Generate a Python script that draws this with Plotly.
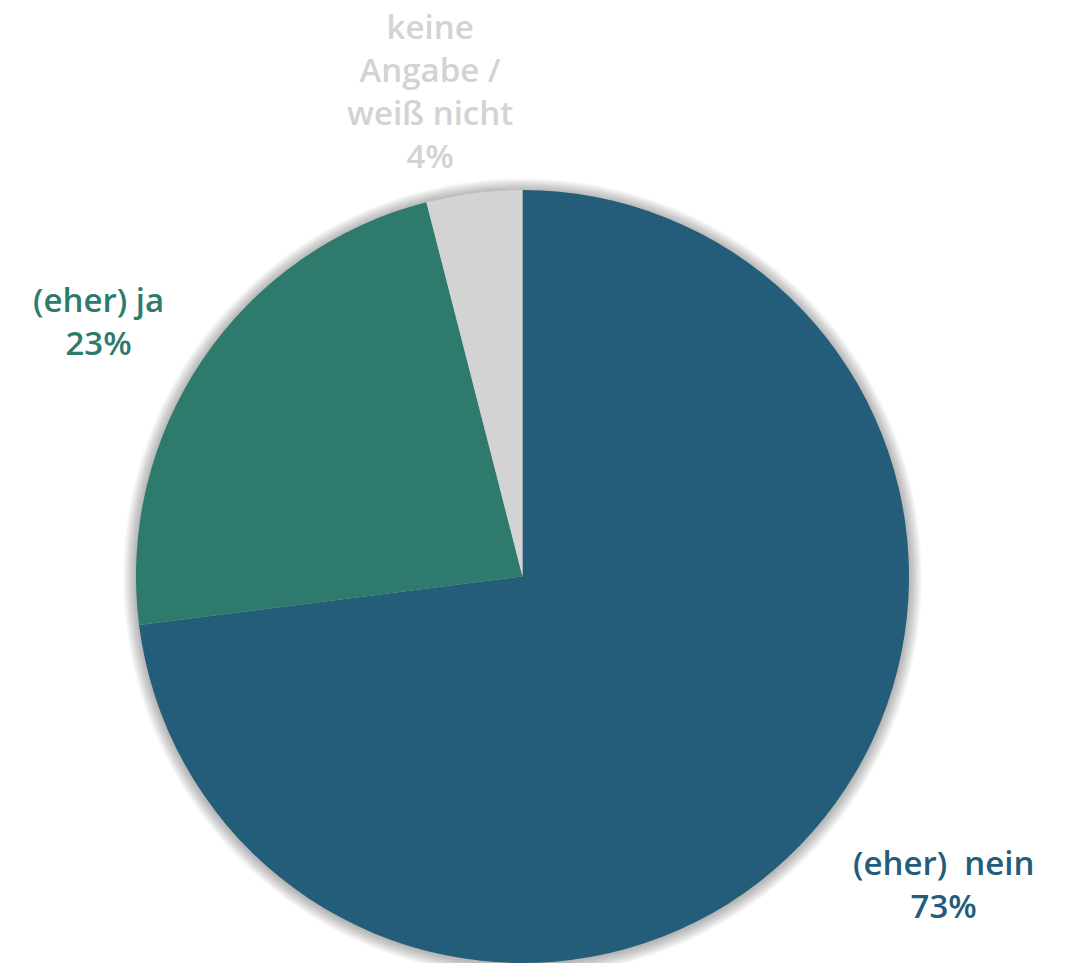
import plotly.graph_objects as go

# Survey answer shares (percent)
categories = ["(eher)  nein", "(eher) ja", "keine Angabe / weiß nicht"]
values = [73, 23, 4]
label_texts = ["(eher)  nein<br>73%", "(eher) ja<br>23%", "keine<br>Angabe /<br>weiß nicht<br>4%"]
colors = ["#235D7A", "#2E7B6E", "#D3D3D3"]

W, H = 1076, 963
cx, cy, r = 522.5, 577.5, 386.5

fig = go.Figure()
fig.add_trace(go.Pie(
    labels=categories,
    values=values,
    sort=False,
    direction="clockwise",
    rotation=0,
    marker=dict(colors=colors, line=dict(width=0)),
    textinfo="none",
    hoverinfo="label+percent",
    showlegend=False,
    domain=dict(x=[(cx - r) / W, (cx + r) / W], y=[0, 2 * r / H]),
))

# soft glow around the pie
shapes = []
n_glow = 13
for i in range(n_glow, 0, -1):
    rr = r + i
    shapes.append(dict(
        type="circle", xref="x", yref="y", layer="below",
        x0=cx - rr, x1=cx + rr, y0=cy - rr, y1=cy + rr,
        line=dict(width=0), fillcolor="rgba(0,0,0,0.022)",
    ))

# outside labels (block centres)
label_pos = [(943, 884), (98, 321), (430, 91)]
annotations = []
for txt, (lx, ly), col in zip(label_texts, label_pos, colors):
    annotations.append(dict(
        x=lx, y=ly, xref="x", yref="y",
        text=txt, showarrow=False, xanchor="center", yanchor="middle",
        align="center",
        font=dict(family="Open Sans", size=33, color=col, weight=600),
    ))

fig.update_layout(
    width=W, height=H,
    margin=dict(l=0, r=0, t=0, b=0),
    paper_bgcolor="white", plot_bgcolor="white",
    xaxis=dict(range=[0, W], visible=False, fixedrange=True),
    yaxis=dict(range=[H, 0], visible=False, fixedrange=True),
    shapes=shapes,
    annotations=annotations,
)

fig.write_html("out.html")
